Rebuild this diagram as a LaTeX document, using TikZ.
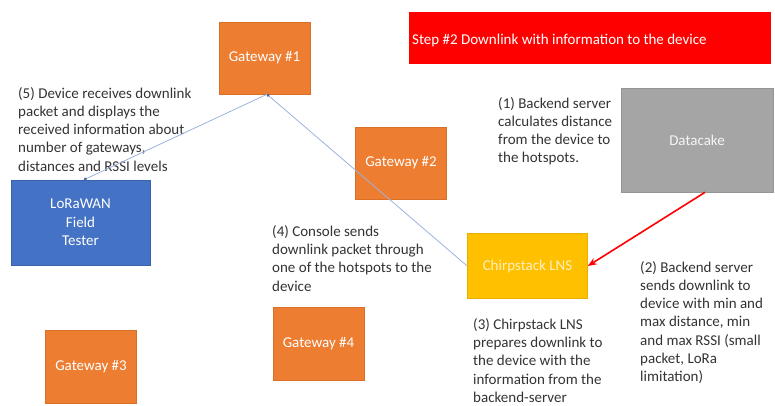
\documentclass[tikz,border=0pt]{standalone}
\usepackage{fontspec}
\setmainfont{Carlito}
\usetikzlibrary{arrows.meta}
\definecolor{gworange}{HTML}{ED7D31}
\definecolor{gwedge}{HTML}{D9702A}
\definecolor{devblue}{HTML}{4472C4}
\definecolor{devedge}{HTML}{3A62AA}
\definecolor{dcgray}{HTML}{A5A5A5}
\definecolor{dcedge}{HTML}{959595}
\definecolor{lnsyellow}{HTML}{FFC000}
\definecolor{lnsedge}{HTML}{E8B000}
\definecolor{lnstext}{HTML}{FFF0C0}
\definecolor{bannerred}{HTML}{FF0000}
\definecolor{linkblue}{HTML}{9DB3DD}
\definecolor{dotblue}{HTML}{4A65A8}
\begin{document}
\begin{tikzpicture}[x=1pt,y=-1pt,
  every node/.style={font=\fontsize{15}{18.3}\selectfont},
  box/.style={rectangle, inner sep=0pt, text=white, align=center, line width=0.6pt},
  gw/.style={box, fill=gworange, draw=gwedge, minimum width=91pt, minimum height=72pt},
  note/.style={anchor=base west, align=left, inner sep=0pt, text=black!80},
  link/.style={draw=linkblue, line width=0.8pt, -{Circle[length=3pt, fill=dotblue, color=dotblue]}},
  redarrow/.style={draw=bannerred, line width=1.6pt, -{Stealth[length=9pt, width=7pt]}}
]
\useasboundingbox (0,0) rectangle (775,405);

% banner
\node[box, fill=bannerred, draw=none, minimum width=362pt, minimum height=52pt] (banner) at (590,38) {};
\node[anchor=west, inner sep=0pt, text=white] (bannertext) at (412,40) {Step \#2 Downlink with information to the device};

% boxes
\node[gw] (g1) at (264.5,58) {Gateway \#1};
\node[gw] (g2) at (401,163) {Gateway \#2};
\node[gw, minimum height=73pt] (g3) at (91,366.5) {Gateway \#3};
\node[gw, minimum height=73pt] (g4) at (318.5,343.5) {Gateway \#4};
\node[box, fill=devblue, draw=devedge, minimum width=139pt, minimum height=85pt] (tester) at (80.5,222.5) {LoRaWAN\\Field\\Tester};
\node[box, fill=lnsyellow, draw=lnsedge, minimum width=120pt, minimum height=65pt, text=lnstext] (lns) at (527.5,266) {Chirpstack LNS};
\node[box, fill=dcgray, draw=dcedge, minimum width=152pt, minimum height=104pt, text=white!92!gray] (dc) at (697,140) {Datacake};

% notes (anchor = baseline of the last line)
\node[note] (n5) at (18,171.2) {(5) Device receives downlink\\packet and displays the\\received information about\\number of gateways,\\distances and RSSI levels};
\node[note] (n1) at (498,162.9) {(1) Backend server\\calculates distance\\from the device to\\the hotspots.};
\node[note] (n4) at (272,291) {(4) Console sends\\downlink packet through\\one of the hotspots to the\\device};
\node[note] (n3) at (473,402.5) {(3) Chirpstack LNS\\prepares downlink to\\the device with the\\information from the\\backend-server};
\node[note] (n2) at (640,381.8) {(2) Backend server\\sends downlink to\\device with min and\\max distance, min\\and max RSSI (small\\packet, LoRa\\limitation)};

% connectors
\coordinate (g1b) at ([xshift=2.5pt]g1.south);
\coordinate (tt) at ([xshift=3.5pt]tester.north);
\coordinate (dcb) at ([xshift=8pt]dc.south);
\draw[link] (lns.west) -- (g1b);
\draw[link] (g1b) -- (tt);
\draw[redarrow] (dcb) -- (lns.east);
\end{tikzpicture}
\end{document}
